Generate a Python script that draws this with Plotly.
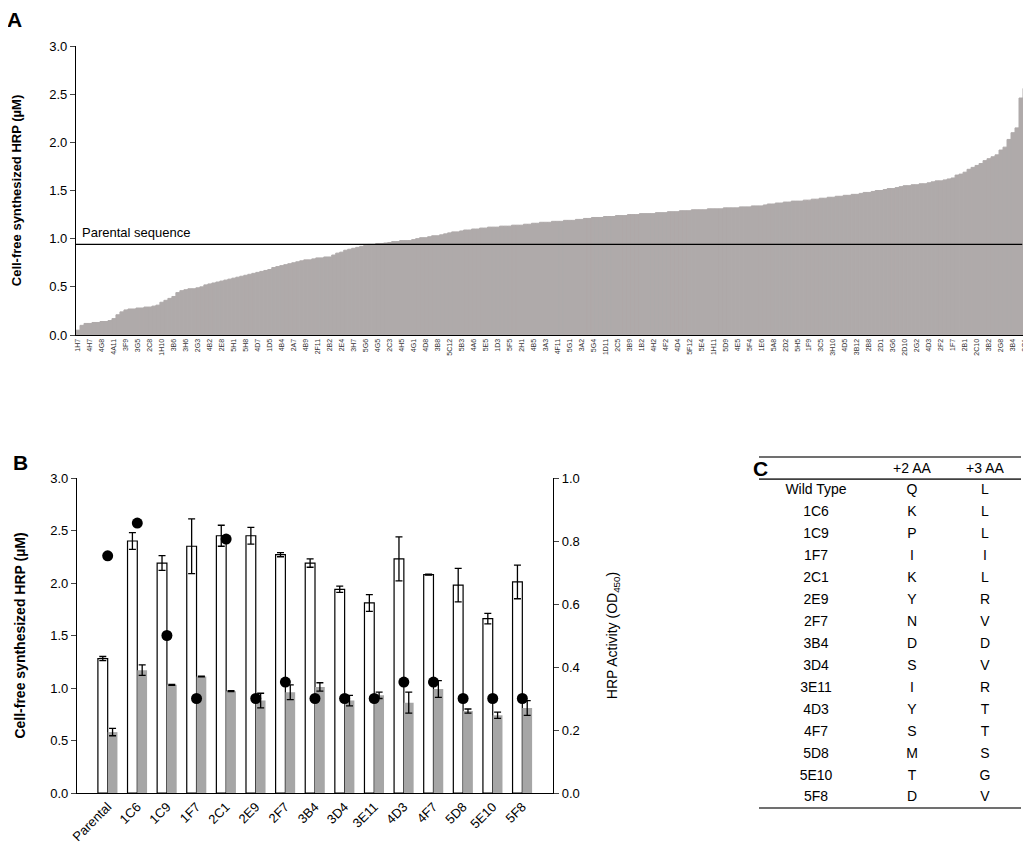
import plotly.graph_objects as go

FONT = "Arial, 'Liberation Sans', sans-serif"

# ---- Panel A: all screened clones, sorted by cell-free yield (uM) ----
clone_labels = [
    "1H7", "4H7", "4G8", "4A11", "3F9", "3G5", "2C8", "1H10", "3B6", "3H6",
    "2G3", "4B2", "2E8", "5H1", "5H8", "4D7", "1D5", "4B4", "2A7", "4B9",
    "2F11", "2B2", "2E4", "3H7", "5G6", "4G5", "2C3", "4H5", "4G1", "4D8",
    "3B8", "5C12", "5B3", "4A6", "5E5", "1D3", "5F5", "2H1", "4B5", "3A3",
    "4F11", "5G1", "3A2", "5G4", "1D11", "2C5", "3B9", "1B2", "4H2", "4F2",
    "4D4", "5F12", "5E4", "1H11", "5D9", "4E5", "5F4", "1E6", "5A8", "2D2",
    "5H5", "1F9", "3C5", "3H10", "4D5", "3B12", "2B8", "2D1", "3G6", "2D10",
    "2G2", "4D3", "2F2", "1F7", "2B1", "2C10", "3B2", "2G8", "3B4", "2C1",
]
clone_yield = [
    0.05, 0.10, 0.12, 0.12, 0.13, 0.13, 0.14, 0.14, 0.15, 0.17,
    0.21, 0.24, 0.26, 0.27, 0.27, 0.28, 0.28, 0.29, 0.29, 0.30,
    0.31, 0.34, 0.36, 0.38, 0.40, 0.44, 0.46, 0.47, 0.48, 0.48,
    0.49, 0.50, 0.52, 0.53, 0.54, 0.55, 0.56, 0.57, 0.58, 0.59,
    0.60, 0.61, 0.62, 0.63, 0.64, 0.65, 0.66, 0.67, 0.68, 0.70,
    0.71, 0.72, 0.73, 0.74, 0.75, 0.76, 0.77, 0.78, 0.78, 0.79,
    0.80, 0.80, 0.81, 0.81, 0.83, 0.85, 0.86, 0.88, 0.89, 0.90,
    0.91, 0.92, 0.93, 0.94, 0.94, 0.95, 0.95, 0.955, 0.96, 0.97,
    0.97, 0.98, 0.98, 0.98, 0.99, 1.00, 1.01, 1.01, 1.02, 1.03,
    1.03, 1.04, 1.05, 1.06, 1.07, 1.07, 1.08, 1.09, 1.09, 1.10,
    1.10, 1.11, 1.11, 1.12, 1.12, 1.12, 1.13, 1.13, 1.13, 1.14,
    1.14, 1.14, 1.15, 1.15, 1.16, 1.16, 1.17, 1.17, 1.17, 1.18,
    1.18, 1.18, 1.19, 1.19, 1.19, 1.20, 1.20, 1.21, 1.21, 1.22,
    1.22, 1.22, 1.23, 1.23, 1.23, 1.24, 1.24, 1.24, 1.25, 1.25,
    1.25, 1.26, 1.26, 1.26, 1.26, 1.27, 1.27, 1.27, 1.28, 1.28,
    1.28, 1.29, 1.29, 1.29, 1.30, 1.30, 1.30, 1.30, 1.31, 1.31,
    1.31, 1.31, 1.32, 1.32, 1.32, 1.32, 1.33, 1.33, 1.33, 1.34,
    1.34, 1.34, 1.35, 1.36, 1.36, 1.37, 1.37, 1.38, 1.38, 1.39,
    1.39, 1.39, 1.40, 1.40, 1.41, 1.41, 1.42, 1.42, 1.43, 1.43,
    1.44, 1.44, 1.45, 1.45, 1.46, 1.46, 1.47, 1.48, 1.48, 1.49,
    1.50, 1.50, 1.51, 1.52, 1.52, 1.53, 1.54, 1.55, 1.55, 1.56,
    1.56, 1.57, 1.57, 1.58, 1.59, 1.60, 1.60, 1.61, 1.62, 1.63,
    1.66, 1.67, 1.69, 1.72, 1.74, 1.76, 1.78, 1.81, 1.83, 1.85,
    1.87, 1.92, 1.95, 2.03, 2.10, 2.15, 2.46, 2.56,
]
parental_level = 0.94
label_every = 3

# ---- Panel B: selected variants ----
variants = ["Parental", "1C6", "1C9", "1F7", "2C1", "2E9", "2F7", "3B4",
            "3D4", "3E11", "4D3", "4F7", "5D8", "5E10", "5F8"]
total_yield = [1.28, 2.40, 2.19, 2.35, 2.45, 2.45, 2.27, 2.19,
               1.94, 1.81, 2.23, 2.08, 1.98, 1.66, 2.01]
total_err = [0.02, 0.08, 0.07, 0.26, 0.10, 0.08, 0.02, 0.04,
             0.03, 0.08, 0.21, 0.005, 0.16, 0.05, 0.16]
soluble_yield = [0.58, 1.17, 1.03, 1.11, 0.97, 0.88, 0.96, 1.01,
                 0.88, 0.93, 0.86, 0.99, 0.78, 0.74, 0.81]
soluble_err = [0.035, 0.05, 0.005, 0.003, 0.005, 0.07, 0.07, 0.04,
               0.05, 0.03, 0.10, 0.08, 0.02, 0.03, 0.07]
activity = [0.753, 0.857, 0.50, 0.30, 0.806, 0.30, 0.352, 0.30,
            0.30, 0.30, 0.352, 0.352, 0.30, 0.30, 0.30]

# ---- Panel C: amino acids at +2 / +3 ----
table_header = ["+2 AA", "+3 AA"]
table_names = ["Wild Type", "1C6", "1C9", "1F7", "2C1", "2E9", "2F7", "3B4",
               "3D4", "3E11", "4D3", "4F7", "5D8", "5E10", "5F8"]
aa_plus2 = ["Q", "K", "P", "I", "K", "Y", "N", "D", "S", "I", "Y", "S", "M", "T", "D"]
aa_plus3 = ["L", "L", "L", "I", "L", "R", "V", "D", "V", "R", "T", "T", "S", "G", "V"]

# the page body adds an 8px offset, so the figure is a bit smaller than the window
OFF = 8
W, H = 1031 - OFF, 853 - OFF


def fx(px):
    return (px - OFF) / W


def fy(py):
    return 1 - (py - OFF) / H


fig = go.Figure()

# Panel A bars
idx = list(range(len(clone_yield)))
fig.add_trace(go.Bar(
    x=idx, y=clone_yield, width=1.0,
    marker=dict(color="#AFAAAA", line=dict(color="#AFAAAA", width=1.0)),
    xaxis="x", yaxis="y", showlegend=False, hoverinfo="y",
))

# Panel B bars
fig.add_trace(go.Bar(
    x=variants, y=total_yield, width=0.33, offset=-0.33,
    marker=dict(color="white", line=dict(color="black", width=1.2)),
    error_y=dict(type="data", array=total_err, color="black", thickness=1.3, width=3.5),
    xaxis="x2", yaxis="y2", showlegend=False,
))
fig.add_trace(go.Bar(
    x=variants, y=soluble_yield, width=0.33, offset=0.0,
    marker=dict(color="#A6A6A6", line=dict(width=0)),
    error_y=dict(type="data", array=soluble_err, color="black", thickness=1.3, width=3.5),
    xaxis="x2", yaxis="y2", showlegend=False,
))
fig.add_trace(go.Scatter(
    x=variants, y=activity, mode="markers",
    marker=dict(color="black", size=11),
    xaxis="x2", yaxis="y3", showlegend=False,
))

# Panel C table as text on a hidden axis (axis units: window pixels / table rows)
col_x = [816, 912, 985]
body_rows = list(range(1, len(table_names) + 1))
fig.add_trace(go.Scatter(
    x=col_x[1:], y=[0] * len(table_header), mode="text", text=table_header,
    textfont=dict(family=FONT, size=14, color="black"),
    xaxis="x4", yaxis="y4", showlegend=False, hoverinfo="skip",
))
for cx, col in zip(col_x, [table_names, aa_plus2, aa_plus3]):
    fig.add_trace(go.Scatter(
        x=[cx] * len(col), y=body_rows, mode="text", text=col,
        textfont=dict(family=FONT, size=14, color="black"),
        xaxis="x4", yaxis="y4", showlegend=False, hoverinfo="skip",
    ))

row_px = 21.93
row0_px = 469
for ry in [-0.55, 0.46, len(table_names) + 0.46]:
    fig.add_shape(type="line", xref="x4", yref="y4", x0=759, x1=1021, y0=ry, y1=ry,
                  line=dict(color="#404040", width=1.6))

# Parental reference line in panel A
fig.add_shape(type="line", xref="x domain", yref="y", x0=0, x1=0.995,
              y0=parental_level, y1=parental_level, line=dict(color="black", width=1.3))

axis_common = dict(showline=True, linecolor="black", linewidth=1.2, showgrid=False,
                   zeroline=False, tickfont=dict(family=FONT, size=13, color="black"),
                   automargin=False)

fig.update_layout(
    width=W, height=H,
    margin=dict(l=0, r=0, t=0, b=0),
    paper_bgcolor="white", plot_bgcolor="rgba(0,0,0,0)",
    font=dict(family=FONT, color="black"),
    xaxis=dict(
        domain=[fx(76), fx(1027)], range=[-0.5, len(clone_yield) - 0.5],
        tickmode="array", tickvals=idx[::label_every], ticktext=clone_labels,
        tickangle=-90, ticks="", showline=True, linecolor="black", linewidth=1.2,
        showgrid=False, zeroline=False, automargin=False,
        tickfont=dict(family=FONT, size=7, color="#333333"), anchor="y",
    ),
    yaxis=dict(
        axis_common, domain=[fy(335), fy(46)], range=[0, 3.0],
        dtick=0.5, tickformat=".1f", ticks="outside", ticklen=5, anchor="x",
        title=dict(text="<b>Cell-free synthesized HRP (µM)</b>",
                   font=dict(family=FONT, size=13), standoff=24),
    ),
    xaxis2=dict(
        axis_common, domain=[fx(77), fx(553)], anchor="y2",
        tickangle=-45, ticks="",
    ),
    yaxis2=dict(
        axis_common, domain=[fy(793), fy(478)], range=[0, 3.0],
        dtick=0.5, tickformat=".1f", ticks="outside", ticklen=5, anchor="x2",
        title=dict(text="<b>Cell-free synthesized HRP (µM)</b>",
                   font=dict(family=FONT, size=14), standoff=21),
    ),
    yaxis3=dict(
        axis_common, overlaying="y2", side="right", range=[0, 1.0], anchor="x2",
        dtick=0.2, tickformat=".1f", ticks="outside", ticklen=5,
        title=dict(text="HRP Activity (OD<sub>450</sub>)",
                   font=dict(family=FONT, size=14), standoff=28),
    ),
    xaxis4=dict(domain=[0, 1], range=[OFF, OFF + W], visible=False, anchor="y4"),
    yaxis4=dict(domain=[0, 1],
                range=[(OFF + H - row0_px) / row_px, (OFF - row0_px) / row_px],
                visible=False, anchor="x4"),
    annotations=[
        dict(text="<b>A</b>", x=fx(14), y=fy(19), xref="paper", yref="paper",
             xanchor="center", yanchor="middle",
             showarrow=False, font=dict(family=FONT, size=21)),
        dict(text="<b>B</b>", x=fx(20), y=fy(462), xref="paper", yref="paper",
             xanchor="center", yanchor="middle",
             showarrow=False, font=dict(family=FONT, size=21)),
        dict(text="<b>C</b>", x=fx(760), y=fy(468), xref="paper", yref="paper",
             xanchor="center", yanchor="middle",
             showarrow=False, font=dict(family=FONT, size=21)),
        dict(text="Parental sequence", x=0.5, y=parental_level, xref="x", yref="y",
             xanchor="left", yanchor="bottom", yshift=2, showarrow=False,
             font=dict(family=FONT, size=13)),
    ],
)

fig.write_html("out.html")
